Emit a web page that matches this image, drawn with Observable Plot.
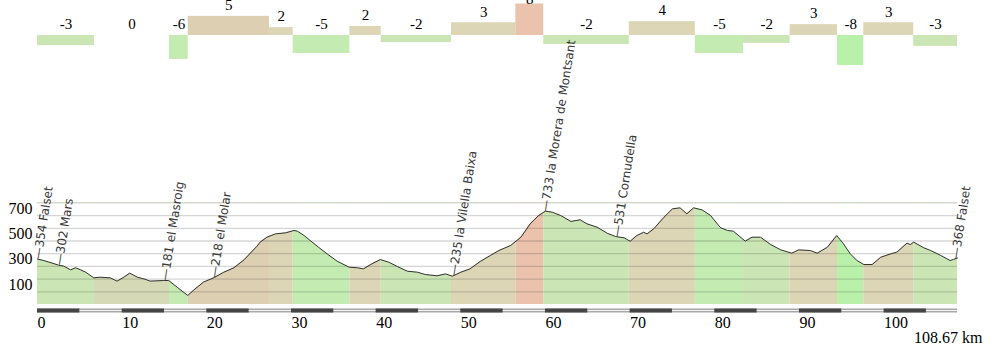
<!DOCTYPE html>
<html><head><meta charset="utf-8">
<script src="https://cdn.jsdelivr.net/npm/d3@7"></script>
<script src="https://cdn.jsdelivr.net/npm/@observablehq/plot@0.6"></script>
<style>
body{margin:0;background:#fff;}
#wrap{position:relative;width:995px;height:345px;overflow:hidden;}
#wrap svg{position:absolute;left:0;top:0;}
</style></head><body><div id="wrap"></div>
<script>
// ---- data ----
const totalKm = 108.67;
const profileKm = [0, 0.75, 2.5, 3.1, 3.9, 4.5, 5.1, 5.7, 6.65, 7.4, 8.6, 9.4, 10.2, 10.9, 11.8, 12.8, 13.3, 14.9, 15.5, 16.5, 17.75, 18.5, 19.6, 20.8, 22.0, 23.2, 24.4, 25.9, 26.3, 27.1, 28.1, 29.3, 30.3, 30.7, 31.5, 32.2, 33.2, 34.2, 35.4, 36.8, 37.8, 38.5, 39.5, 40.5, 41.5, 42.5, 43.7, 44.9, 45.8, 47.2, 48.2, 49.0, 50.0, 51.1, 52.3, 53.5, 54.5, 55.9, 57.1, 58.2, 59.2, 60.0, 60.8, 61.8, 63.0, 64.1, 64.9, 66.1, 67.3, 68.3, 69.3, 70.0, 70.8, 71.6, 72.0, 72.8, 74.0, 75.0, 75.9, 76.7, 77.5, 78.5, 79.5, 80.3, 80.7, 81.5, 82.2, 83.6, 84.4, 85.4, 86.6, 87.8, 89.1, 89.9, 91.3, 92.1, 93.3, 94.4, 95.2, 96.0, 96.8, 97.6, 98.6, 99.6, 100.8, 101.5, 102.7, 103.1, 103.5, 104.7, 105.5, 106.7, 107.8, 108.2, 108.67];
const profileElev = [358, 346, 310, 302, 273, 289, 273, 254, 210, 215, 210, 184, 215, 247, 215, 197, 184, 189, 189, 136, 71, 116, 176, 210, 254, 289, 352, 457, 491, 530, 556, 564, 583, 577, 543, 504, 451, 399, 341, 294, 289, 281, 320, 354, 333, 299, 262, 254, 236, 226, 241, 223, 254, 281, 339, 386, 425, 465, 530, 635, 701, 735, 727, 701, 654, 667, 635, 609, 561, 535, 525, 498, 543, 569, 556, 596, 687, 753, 761, 714, 761, 745, 701, 635, 604, 583, 577, 499, 530, 530, 472, 430, 404, 430, 425, 404, 451, 543, 478, 399, 346, 315, 315, 372, 399, 412, 483, 472, 491, 446, 425, 386, 346, 355, 366];

const segStart = [0, 6.73, 15.6, 17.8, 27.4, 30.2, 36.9, 40.6, 48.9, 56.5, 59.8, 69.9, 77.7, 83.4, 88.9, 94.5, 97.6, 103.5];
const segEnd   = [6.73, 15.6, 17.8, 27.4, 30.2, 36.9, 40.6, 48.9, 56.5, 59.8, 69.9, 77.7, 83.4, 88.9, 94.5, 97.6, 103.5, 108.67];
const segGrade = [-2.7, 0, -6.4, 5.1, 2.1, -4.8, 2.4, -1.9, 3.4, 8.4, -2.4, 3.7, -4.8, -2.1, 2.9, -8.0, 3.4, -2.9];
const segLabel = ["-3", "0", "-6", "5", "2", "-5", "2", "-2", "3", "8", "-2", "4", "-5", "-2", "3", "-8", "3", "-3"];

const placeKm = [0, 2.5, 15.0, 20.8, 49.1, 59.9, 68.4, 108.4];
const placeLabel = ["354 Falset", "302 Mars", "181 el Masroig", "218 el Molar", "235 la Vilella Baixa", "733 la Morera de Montsant", "531 Cornudella", "368 Falset"];

const xTicks = [0, 10, 20, 30, 40, 50, 60, 70, 80, 90, 100];
const yTicks = [100, 300, 500, 700];
const gridLevels = [100, 200, 300, 400, 500, 600, 700, 800];

// ---- derived tables ----
const profile = profileKm.map((k, i) => ({km: k, elev: profileElev[i]}));
const segs = segStart.map((s, i) => ({start: s, end: segEnd[i], grade: segGrade[i], label: segLabel[i]}));
function elevAt(k) {
  const i = Math.min(Math.max(d3.bisectRight(profileKm, k), 1), profileKm.length - 1);
  const k0 = profileKm[i - 1], k1 = profileKm[i];
  const t = (k - k0) / (k1 - k0);
  return profileElev[i - 1] + t * (profileElev[i] - profileElev[i - 1]);
}
const places = placeKm.map((k, i) => ({km: k, elev: elevAt(k), label: "\u2014" + placeLabel[i]}));
const barSegs = d3.range(0, totalKm, 5).map(a => ({a, b: Math.min(a + 5, totalKm), dark: (a / 5) % 2 === 0}));

function gradeColor(g) {
  if (g <= -7) return "#baf1aa";
  if (g <= -4) return "#c4ebb1";
  if (g <= -1) return "#cbe6b4";
  if (g < 1) return "#d5d9b6";
  if (g < 4) return "#dcd5b6";
  if (g < 7) return "#ddcfb2";
  return "#ebc3ac";
}

const serif = "'Liberation Serif', 'Times New Roman', serif";
const sans = "'DejaVu Sans', sans-serif";
const X0 = 37, X1 = 957;
const wrap = document.getElementById("wrap");

const topPlot = Plot.plot({
  width: 995, height: 70, marginLeft: X0, marginRight: 995 - X1, marginTop: 0, marginBottom: 0,
  x: {domain: [0, totalKm], range: [X0, X1], axis: null},
  y: {domain: [-70 / 2 / 3.75, 70 / 2 / 3.75], range: [70, 0], axis: null},
  color: {type: "identity"},
  style: {background: "transparent", overflow: "visible"},
  marks: [
    Plot.rect(segs, {x1: "start", x2: "end", y1: () => 0, y2: "grade", fill: d => gradeColor(d.grade)}),
    Plot.text(segs, {x: d => (d.start + d.end) / 2, y: d => Math.min(Math.max(d.grade, 0), 6.7), text: "label", dy: -11,
      fontSize: 15, fontFamily: serif, fill: "#000"})
  ]
});
wrap.appendChild(topPlot);

const bottomPlot = Plot.plot({
  width: 995, height: 345, marginLeft: X0, marginRight: 995 - X1, marginTop: 0, marginBottom: 0,
  x: {domain: [0, totalKm], range: [X0, X1], axis: null},
  y: {domain: [0, 800], range: [304, 202.4], axis: null},
  color: {type: "identity"},
  style: {background: "transparent", overflow: "visible"},
  marks: [
    Plot.rect(segs, {x1: "start", x2: "end", y1: () => 0, y2: () => 800, fill: d => gradeColor(d.grade)}),
    Plot.areaY(profile, {x: "km", y1: "elev", y2: () => 800, fill: "#fff"}),
    Plot.ruleY(gridLevels, {stroke: "#000", strokeOpacity: 0.16, strokeWidth: 1.3}),
    Plot.line(profile, {x: "km", y: "elev", stroke: "#333", strokeWidth: 1}),
    Plot.ruleY([0], {x1: () => 0, x2: () => totalKm, stroke: "#a8a8a8", strokeWidth: 4, dy: 6}),
    Plot.ruleY([0], {x1: () => 0, x2: () => totalKm, stroke: "#f4f4f4", strokeWidth: 1.2, dy: 6}),
    Plot.ruleY(barSegs.filter(d => d.dark), {y: () => 0, x1: "a", x2: "b", stroke: "#454545", strokeWidth: 4, dy: 6}),
    Plot.text(yTicks, {x: () => 0, y: d => d, text: d => String(d), textAnchor: "end", dx: -5, dy: -2,
      lineAnchor: "bottom", fontSize: 16, fontFamily: serif, fill: "#000"}),
    Plot.text(xTicks, {x: d => d, y: () => 0, text: d => String(d), textAnchor: "start", dy: 23,
      lineAnchor: "bottom", fontSize: 16, fontFamily: serif, fill: "#000"}),
    Plot.text([`${totalKm} km`], {x: () => totalKm, y: () => 0, text: d => d, textAnchor: "end", dx: 25, dy: 38,
      lineAnchor: "bottom", fontSize: 16, fontFamily: serif, fill: "#000"}),
    Plot.text(places, {x: "km", y: "elev", text: "label", rotate: -81, textAnchor: "start",
      fontSize: 12, fontFamily: sans, fill: "#3a3a3a"})
  ]
});
wrap.appendChild(bottomPlot);
</script></body></html>
